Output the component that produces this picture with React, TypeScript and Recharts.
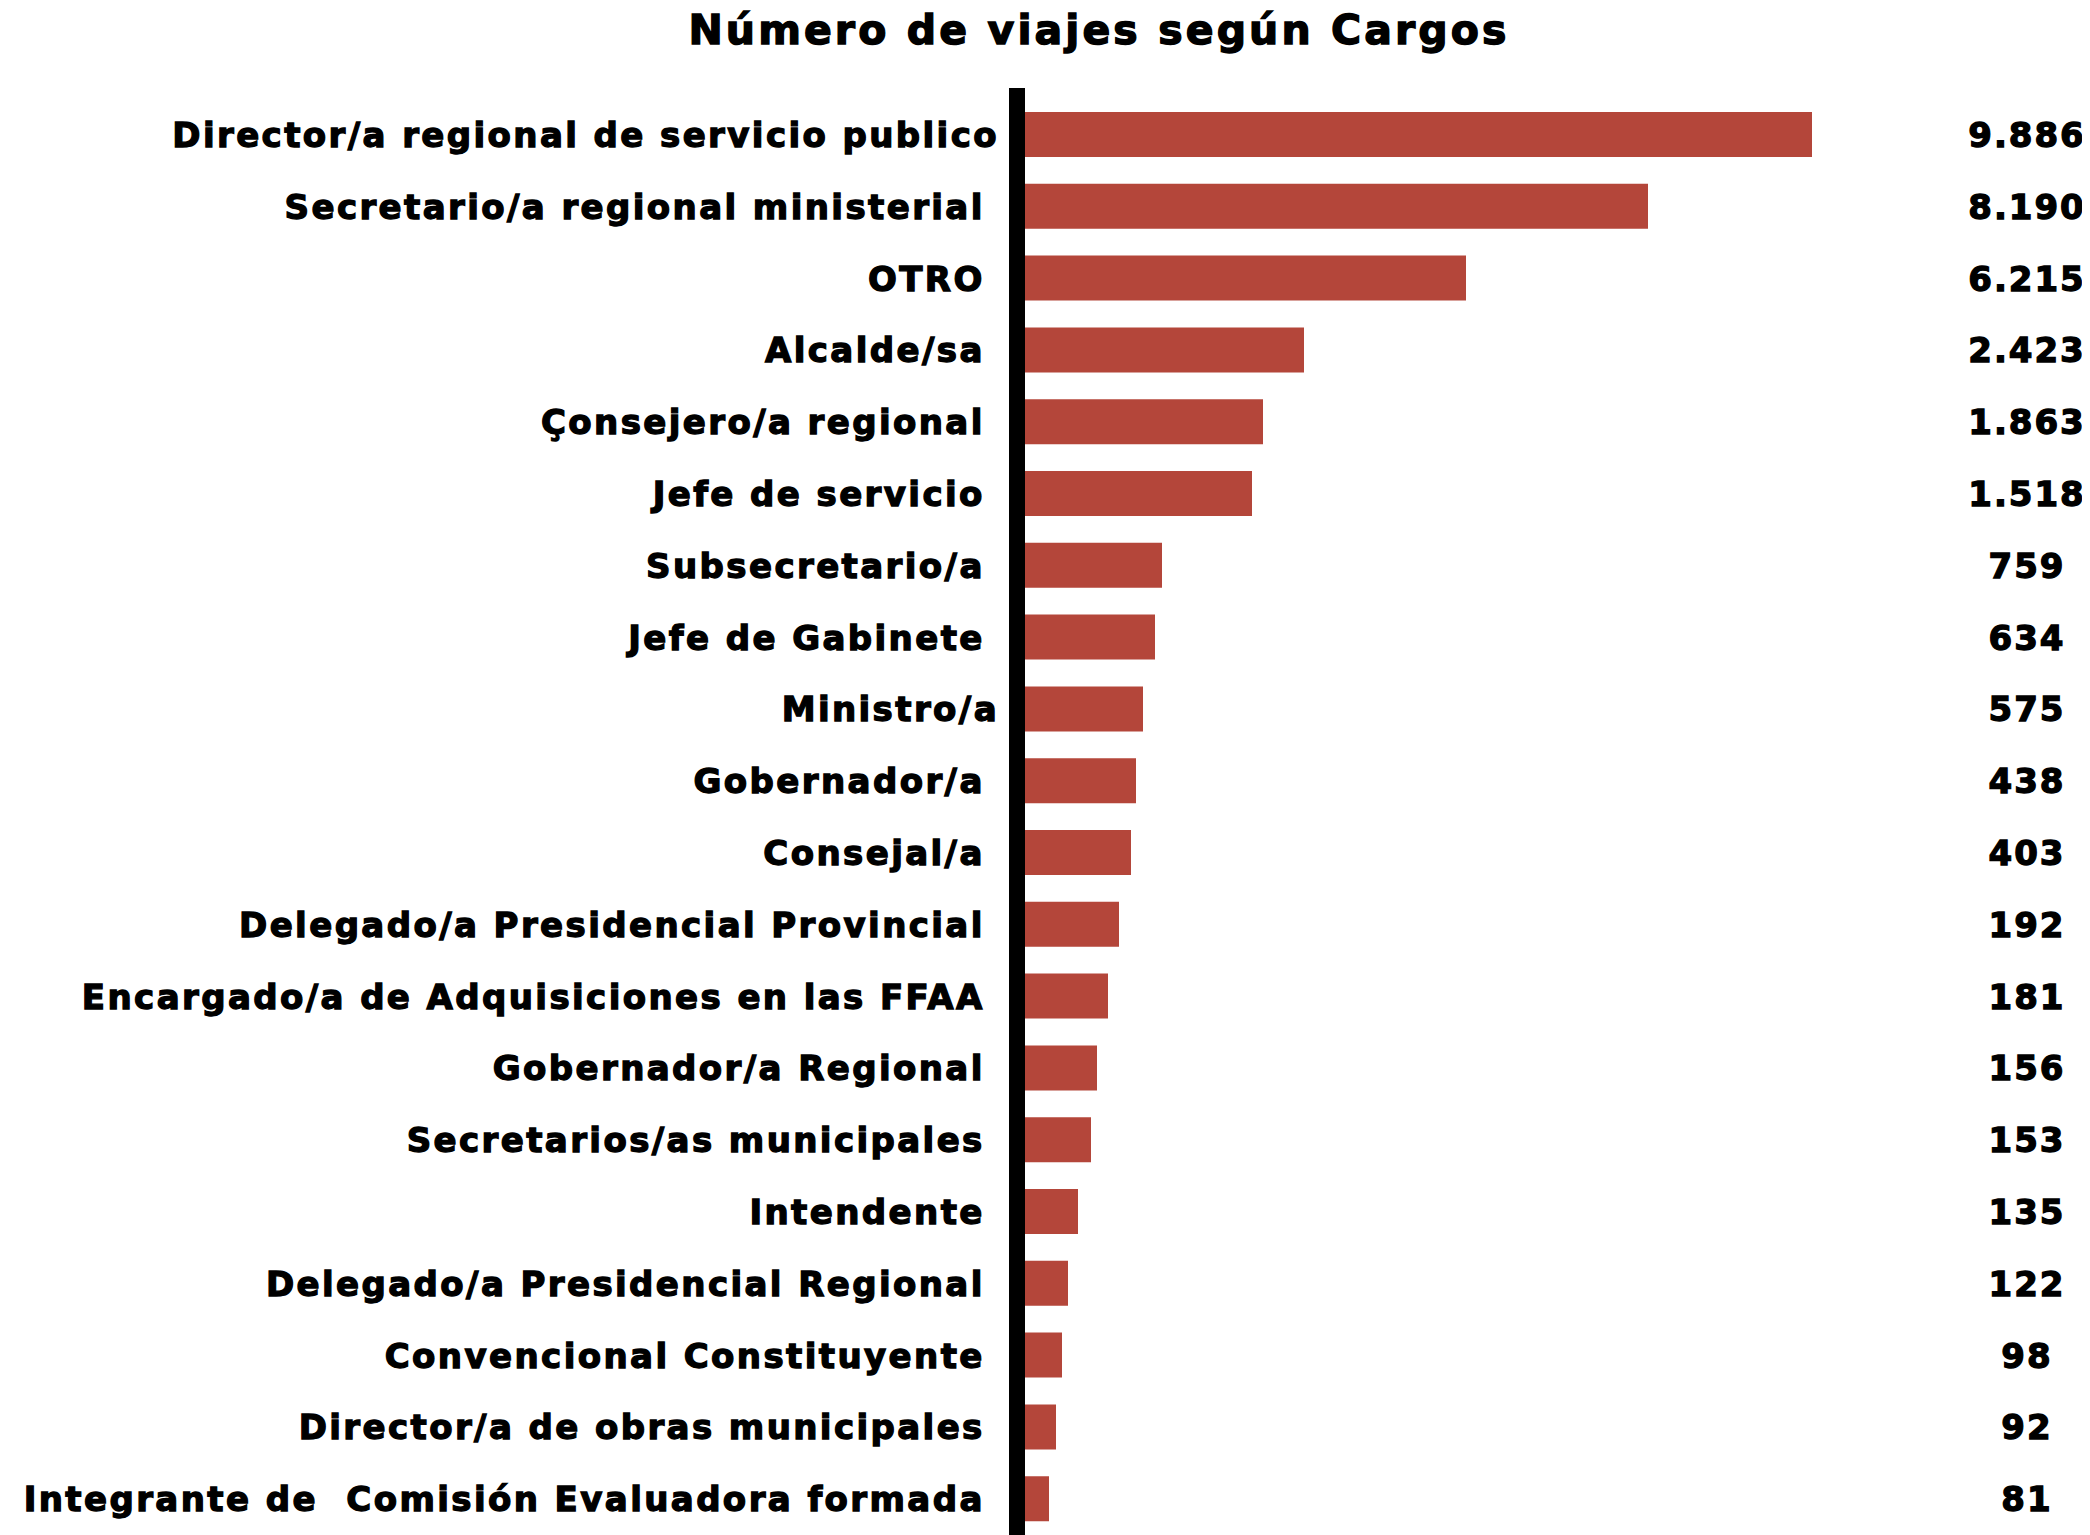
import React from 'react';
import { BarChart, Bar, XAxis, YAxis } from 'recharts';

const categories = [
  'Director/a regional de servicio publico',
  'Secretario/a regional ministerial ',
  'OTRO ',
  'Alcalde/sa ',
  'Çonsejero/a regional ',
  'Jefe de servicio ',
  'Subsecretario/a ',
  'Jefe de Gabinete ',
  'Ministro/a',
  'Gobernador/a ',
  'Consejal/a ',
  'Delegado/a Presidencial Provincial ',
  'Encargado/a de Adquisiciones en las FFAA ',
  'Gobernador/a Regional ',
  'Secretarios/as municipales ',
  'Intendente ',
  'Delegado/a Presidencial Regional ',
  'Convencional Constituyente ',
  'Director/a de obras municipales ',
  'Integrante de  Comisión Evaluadora formada ',
];

// Number of trips shown as the label of each row
const tripCounts = [9886, 8190, 6215, 2423, 1863, 1518, 759, 634, 575, 438, 403, 192, 181, 156, 153, 135, 122, 98, 92, 81];

// Bar lengths as drawn in the original graphic (not proportional to the counts)
const barLengths = [787, 623, 441, 279, 238, 227, 137, 130, 118, 111, 106, 94, 83, 72, 66, 53, 43, 37, 31, 24];

const formatCount = (n: number) => String(n).replace(/\B(?=(\d{3})+(?!\d))/g, '.');

const data = categories.map((name, i) => ({ name, count: tripCounts[i], length: barLengths[i] }));
const countByName: Record<string, number> = {};
data.forEach((d) => { countByName[d.name] = d.count; });

const FONT = '"DejaVu Sans", sans-serif';
const BAR_COLOR = '#B4463A';

const LeftTick = (props: any) => {
  const { x, y, payload } = props;
  return (
    <text
      x={x}
      y={y}
      dy="0.355em"
      textAnchor="end"
      fill="#000"
      stroke="#000"
      strokeWidth={1.3}
      fontFamily={FONT}
      fontWeight={700}
      fontSize={34}
      xmlSpace="preserve"
      style={{ letterSpacing: '2.4px', whiteSpace: 'pre' }}
    >
      {payload.value}
    </text>
  );
};

const RightTick = (props: any) => {
  const { x, y, payload } = props;
  return (
    <text
      x={x}
      y={y}
      dy="0.355em"
      textAnchor="middle"
      fill="#000"
      stroke="#000"
      strokeWidth={1.3}
      fontFamily={FONT}
      fontWeight={700}
      fontSize={34}
      style={{ letterSpacing: '2px' }}
    >
      {formatCount(countByName[payload.value])}
    </text>
  );
};

export default function App() {
  return (
    <div style={{ position: 'relative', width: 2082, height: 1527, background: '#fff' }}>
      <div
        style={{
          position: 'absolute',
          left: 591,
          top: 2,
          width: 1000,
          textAlign: 'center',
          fontFamily: FONT,
          fontWeight: 700,
          fontSize: 41,
          lineHeight: '41px',
          letterSpacing: '3.1px',
          color: '#000',
          WebkitTextStroke: '1.4px #000',
        }}
      >
        Número de viajes según Cargos
      </div>
      <BarChart
        width={2082}
        height={1527}
        data={data}
        layout="vertical"
        margin={{ top: 80, right: 0, bottom: 0, left: 0 }}
        barSize={45}
      >
        <XAxis type="number" hide domain={[-8, 875]} allowDataOverflow />
        <YAxis
          yAxisId="left"
          type="category"
          dataKey="name"
          width={1009}
          padding={{ top: 11, bottom: 0 }}
          axisLine={{ stroke: '#000', strokeWidth: 16 }}
          tickLine={false}
          tickSize={0}
          tickMargin={18}
          interval={0}
          tick={<LeftTick />}
        />
        <YAxis
          yAxisId="right"
          orientation="right"
          type="category"
          dataKey="name"
          width={190}
          padding={{ top: 11, bottom: 0 }}
          axisLine={false}
          tickLine={false}
          tickSize={0}
          tickMargin={127}
          interval={0}
          tick={<RightTick />}
        />
        <Bar yAxisId="left" dataKey="length" fill={BAR_COLOR} isAnimationActive={false} />
      </BarChart>
    </div>
  );
}
